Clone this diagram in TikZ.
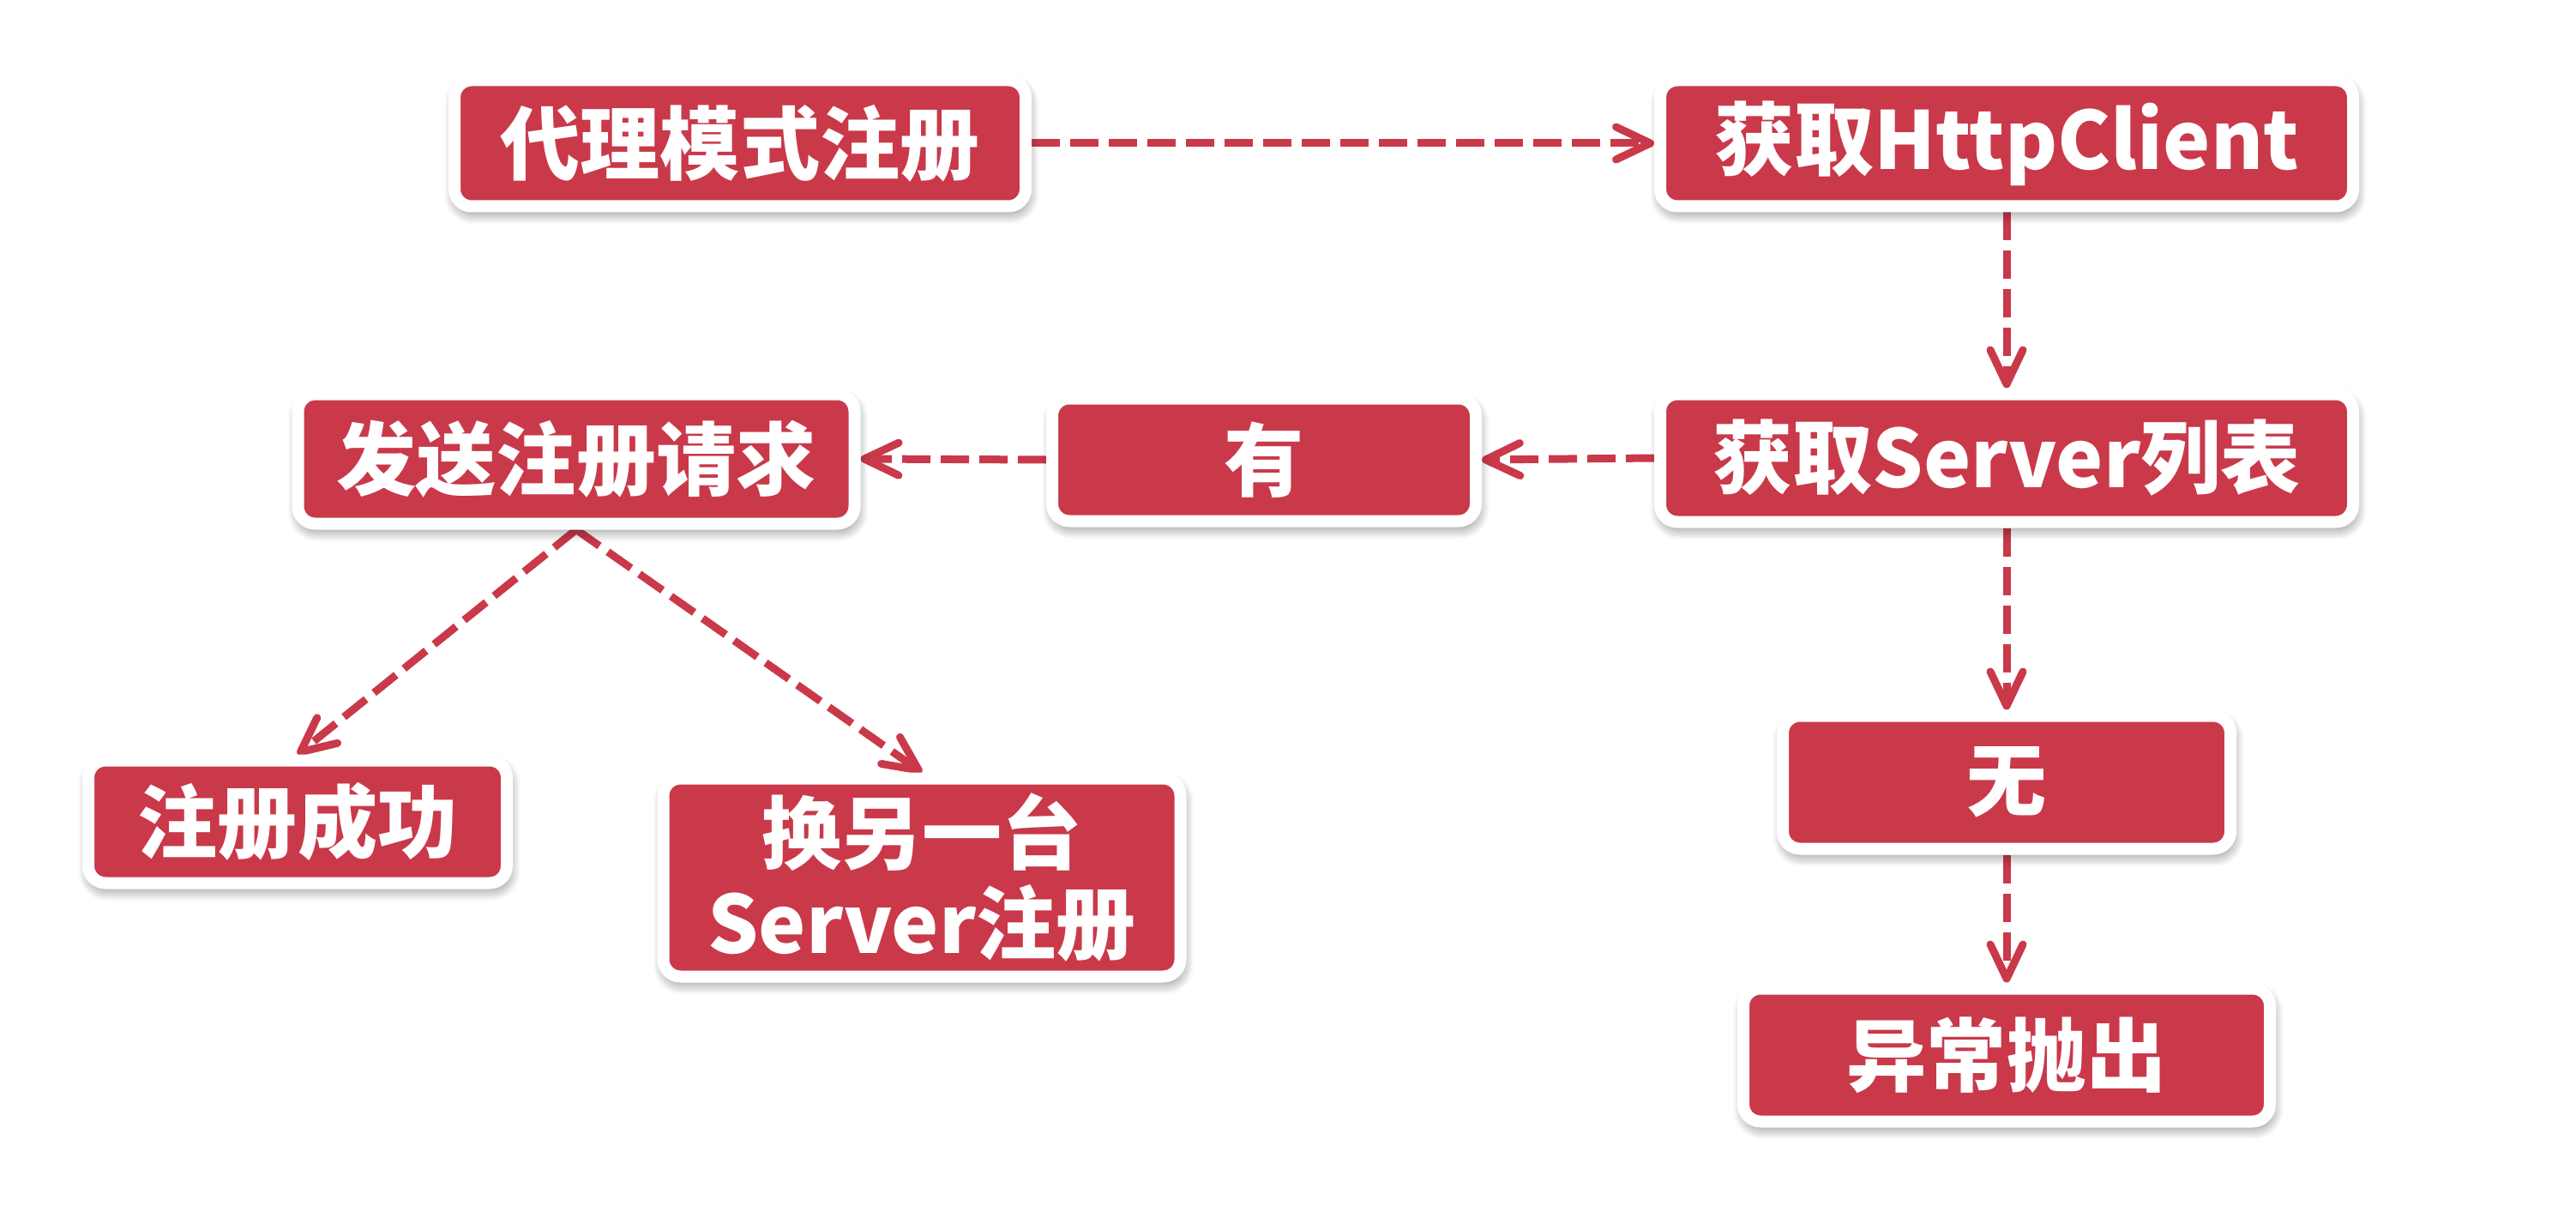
\documentclass[tikz,border=0pt]{standalone}
\usepackage{fontspec}
\newfontfamily\cjk{Noto Sans CJK SC}
\usetikzlibrary{shapes,arrows.meta,shadows,shadows.blur,positioning,backgrounds,calc}
\definecolor{boxred}{RGB}{201,57,74}
\newcommand{\fnode}[6][(0,0)]{
  \node [fbox,minimum width=#3cm,minimum height=#4cm] (#6) at ($#1+#2$) {#5};
}
\newcommand{\fedge}[2]{
  \begin{scope}[on background layer]
    \draw [flow] #1 -- #2;
  \end{scope}
}

\begin{document}
\begin{tikzpicture}[
  fbox/.style={rectangle,rounded corners=0.2cm,fill=boxred,draw=white,line width=0.14cm,
    text=white,font=\cjk\bfseries\fontsize{26.5}{30}\selectfont,align=center,inner sep=0pt,
    blur shadow={shadow xshift=0.02cm,shadow yshift=-0.07cm,shadow blur radius=0.14cm,
      shadow blur steps=8,shadow opacity=55}},
  flow/.style={boxred,line width=0.09cm,dash pattern=on 0.33cm off 0.12cm,
    -{Straight Barb[length=0.4cm,width=0.38cm,round]}}]
  \useasboundingbox (0,0) rectangle (30.04,-14.06);

  \fnode{(8.63,-1.67)}{6.66}{1.47}{代理模式注册}{reg}
  \fnode[(14.77,0)]{(reg)}{8.08}{1.47}{获取HttpClient}{client}
  \fnode[(0,-3.67)]{(client)}{8.08}{1.49}{获取Server列表}{list}
  \fnode[(-8.66,-0.02)]{(list)}{4.94}{1.43}{有}{yes}
  \fnode[(-8.02,0.01)]{(yes)}{6.49}{1.51}{发送注册请求}{send}
  \fnode[(-3.25,-4.23)]{(send)}{4.88}{1.43}{注册成功}{ok}
  \fnode[(4.03,-4.88)]{(send)}{6.03}{2.31}{换另一台\\Server注册}{retry}
  \fnode[(0,-3.78)]{(list)}{5.22}{1.55}{无}{no}
  \fnode[(0,-6.96)]{(list)}{6.14}{1.55}{异常抛出}{err}

  \fedge{(reg.east)}{(client.west)}
  \fedge{(client.south)}{(list.north)}
  \fedge{(list.west)}{(yes.east)}
  \fedge{(yes.west)}{(send.east)}
  \fedge{(send.south)}{(ok.north)}
  \fedge{(send.south)}{(retry.north)}
  \fedge{(list.south)}{(no.north)}
  \fedge{(no.south)}{(err.north)}
\end{tikzpicture}
\end{document}
